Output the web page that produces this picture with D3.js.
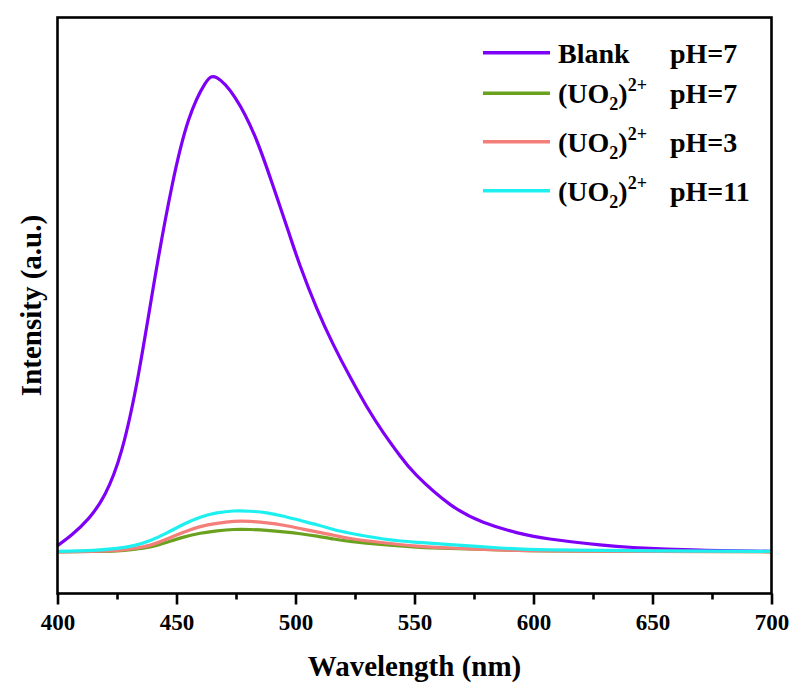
<!DOCTYPE html>
<html>
<head>
<meta charset="utf-8">
<script src="https://cdn.jsdelivr.net/npm/d3@7"></script>
<style>
  body { margin: 0; background: #fff; }
  svg text { font-family: "Liberation Serif", "Times New Roman", serif; font-weight: bold; fill: #000; }
</style>
</head>
<body>
<div id="chart"></div>
<script>
// blank curve (intensity normalised, peak ~1)
var blankNm = [400, 406, 413, 420, 427, 434, 441, 448, 455, 462, 466.9, 474.6, 483, 490, 497, 501.9, 508.9, 515.9, 522.9, 529.9, 536.9, 543.9, 550.9, 564.9, 578.9, 592.9, 606.9, 627.9, 641.8, 669.9, 700]
var blankI  = [0.013, 0.036, 0.07, 0.122, 0.215, 0.374, 0.58, 0.769, 0.9095, 0.9874, 1.0, 0.958, 0.876, 0.78, 0.676, 0.604, 0.514, 0.437, 0.369, 0.3065, 0.2515, 0.2025, 0.161, 0.1, 0.0625, 0.0405, 0.027, 0.0145, 0.009, 0.0035, 0.001]

// uranyl curves share one wavelength grid
var uoNm   = [400, 415, 425, 432, 439, 446, 453, 460, 467, 474, 481, 488, 495, 502, 509, 516, 523, 537, 551, 565, 586, 607, 650, 700]
var uoPH7  = [0, 0.0007, 0.002, 0.005, 0.010, 0.02, 0.031, 0.039, 0.044, 0.047, 0.047, 0.045, 0.042, 0.038, 0.033, 0.027, 0.022, 0.015, 0.01, 0.007, 0.004, 0.002, 0.001, 0]
var uoPH3  = [0, 0.001, 0.003, 0.007, 0.014, 0.027, 0.041, 0.053, 0.060, 0.064, 0.064, 0.061, 0.056, 0.049, 0.042, 0.035, 0.028, 0.019, 0.012, 0.008, 0.004, 0.002, 0.001, 0]
var uoPH11 = [0.001, 0.003, 0.007, 0.013, 0.024, 0.04, 0.058, 0.073, 0.082, 0.086, 0.0855, 0.082, 0.075, 0.066, 0.057, 0.047, 0.039, 0.027, 0.02, 0.015, 0.008, 0.004, 0.002, 0.001]

var seriesNames = ["Blank", "(UO2)2+", "(UO2)2+", "(UO2)2+"]
var seriesPH = ["pH=7", "pH=7", "pH=3", "pH=11"]
var seriesColors = ["#7f00f6", "#6aa11f", "#f47e7a", "#1ef0f0"]

var xTicks = [400, 450, 500, 550, 600, 650, 700]

var W = 793, H = 687
var margin = {top: 17.5, right: 21.5, bottom: 93.5, left: 57.5}
var width = W - margin.left - margin.right
var height = H - margin.top - margin.bottom

var svg = d3.select("#chart").append("svg")
    .attr("width", W)
    .attr("height", H)

var g = svg.append("g")
    .attr("transform", "translate(" + margin.left + "," + margin.top + ")")

var x = d3.scaleLinear().domain([400, 700]).range([0, width])
var y = d3.scaleLinear().domain([-0.088, 1.127]).range([height, 0])

var series = [
  {nm: blankNm, v: blankI},
  {nm: uoNm, v: uoPH7},
  {nm: uoNm, v: uoPH3},
  {nm: uoNm, v: uoPH11}
]

var line = d3.line()
    .x(function(d) { return x(d[0]) })
    .y(function(d) { return y(d[1]) })
    .curve(d3.curveNatural)

series.forEach(function(s, i) {
  var pts = s.nm.map(function(n, j) { return [n, s.v[j]] })
  g.append("path")
    .attr("d", line(pts))
    .attr("fill", "none")
    .attr("stroke", seriesColors[i])
    .attr("stroke-width", 3.2)
})

// frame
g.append("rect")
    .attr("width", width).attr("height", height)
    .attr("fill", "none").attr("stroke", "#000").attr("stroke-width", 2.6)

// minor ticks every 25
var xMinor = d3.axisBottom(x).tickValues(d3.range(425, 700, 50)).tickSize(6).tickFormat("")
g.append("g").attr("transform", "translate(0," + height + ")").call(xMinor)
  .call(function(a) { a.select(".domain").remove() })
  .selectAll("line").attr("stroke-width", 2.6)

var xAxis = d3.axisBottom(x).tickValues(xTicks).tickSize(11).tickPadding(4).tickFormat(d3.format("d"))
var ax = g.append("g").attr("transform", "translate(0," + height + ")").call(xAxis)
ax.select(".domain").remove()
ax.selectAll("line").attr("stroke-width", 2.6)
ax.selectAll("text").attr("font-size", 23).attr("font-family", null).attr("dy", "0.95em")

// axis titles
svg.append("text")
    .attr("x", margin.left + width / 2).attr("y", 676)
    .attr("text-anchor", "middle").attr("font-size", 29)
    .text("Wavelength (nm)")

svg.append("text")
    .attr("transform", "translate(41," + (margin.top + height / 2) + ") rotate(-90)")
    .attr("text-anchor", "middle").attr("font-size", 29)
    .text("Intensity (a.u.)")

// legend
var legY = [52.7, 93.3, 141.7, 190.7]
var leg = svg.append("g")
seriesNames.forEach(function(name, i) {
  leg.append("line")
    .attr("x1", 483).attr("x2", 550)
    .attr("y1", legY[i]).attr("y2", legY[i])
    .attr("stroke", seriesColors[i]).attr("stroke-width", 3.6)
  var t = leg.append("text").attr("x", 558).attr("y", legY[i] + 10).attr("font-size", 28)
  if (name == "Blank") {
    t.text("Blank")
  } else {
    t.append("tspan").text("(UO")
    t.append("tspan").attr("font-size", 18).attr("dy", 7).text("2")
    t.append("tspan").attr("dy", -7).text(")")
    t.append("tspan").attr("font-size", 18).attr("dy", -12).text("2+")
  }
  leg.append("text").attr("x", 670).attr("y", legY[i] + 10).attr("font-size", 28).text(seriesPH[i])
})
</script>
</body>
</html>
